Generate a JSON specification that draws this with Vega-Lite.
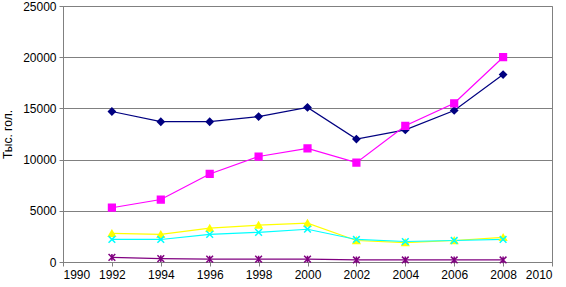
{
  "$schema": "https://vega.github.io/schema/vega-lite/v6.json",
  "autosize": "none",
  "width": 489,
  "height": 256,
  "padding": {"left": 63, "top": 6, "right": 14, "bottom": 25},
  "background": "white",
  "config": {
    "font": "Liberation Sans",
    "view": {"stroke": "#808080", "strokeWidth": 1}
  },
  "data": {
    "values": [
      {"s": "A", "year": 1992, "v": 14700}, {"s": "A", "year": 1994, "v": 13700}, {"s": "A", "year": 1996, "v": 13700},
      {"s": "A", "year": 1998, "v": 14200}, {"s": "A", "year": 2000, "v": 15100}, {"s": "A", "year": 2002, "v": 12000},
      {"s": "A", "year": 2004, "v": 12900}, {"s": "A", "year": 2006, "v": 14800}, {"s": "A", "year": 2008, "v": 18300},
      {"s": "B", "year": 1992, "v": 5300}, {"s": "B", "year": 1994, "v": 6100}, {"s": "B", "year": 1996, "v": 8600},
      {"s": "B", "year": 1998, "v": 10300}, {"s": "B", "year": 2000, "v": 11100}, {"s": "B", "year": 2002, "v": 9700},
      {"s": "B", "year": 2004, "v": 13300}, {"s": "B", "year": 2006, "v": 15500}, {"s": "B", "year": 2008, "v": 20000},
      {"s": "C", "year": 1992, "v": 2800}, {"s": "C", "year": 1994, "v": 2700}, {"s": "C", "year": 1996, "v": 3300},
      {"s": "C", "year": 1998, "v": 3600}, {"s": "C", "year": 2000, "v": 3800}, {"s": "C", "year": 2002, "v": 2100},
      {"s": "C", "year": 2004, "v": 1900}, {"s": "C", "year": 2006, "v": 2100}, {"s": "C", "year": 2008, "v": 2400},
      {"s": "D", "year": 1992, "v": 2200}, {"s": "D", "year": 1994, "v": 2200}, {"s": "D", "year": 1996, "v": 2700},
      {"s": "D", "year": 1998, "v": 2900}, {"s": "D", "year": 2000, "v": 3200}, {"s": "D", "year": 2002, "v": 2200},
      {"s": "D", "year": 2004, "v": 2000}, {"s": "D", "year": 2006, "v": 2100}, {"s": "D", "year": 2008, "v": 2200},
      {"s": "E", "year": 1992, "v": 450}, {"s": "E", "year": 1994, "v": 330}, {"s": "E", "year": 1996, "v": 280},
      {"s": "E", "year": 1998, "v": 280}, {"s": "E", "year": 2000, "v": 280}, {"s": "E", "year": 2002, "v": 200},
      {"s": "E", "year": 2004, "v": 200}, {"s": "E", "year": 2006, "v": 200}, {"s": "E", "year": 2008, "v": 200}
    ]
  },
  "encoding": {
    "x": {
      "field": "year", "type": "quantitative",
      "scale": {"domain": [1990, 2010], "nice": false, "zero": false},
      "axis": {"values": [1990,1992,1994,1996,1998,2000,2002,2004,2006,2008,2010], "format": "d", "grid": false, "title": null,
        "domainColor": "#808080", "tickColor": "#808080", "tickSize": 4, "labelFontSize": 12, "labelColor": "black", "labelPadding": 3}
    },
    "y": {
      "field": "v", "type": "quantitative",
      "scale": {"domain": [0, 25000], "nice": false},
      "axis": {"values": [0,5000,10000,15000,20000,25000], "format": "d", "title": "Тыс. гол.",
        "grid": true, "gridColor": "#808080", "gridOpacity": 1, "gridWidth": 1,
        "domainColor": "#808080", "tickColor": "#808080", "tickSize": 4, "labelFontSize": 12, "labelColor": "black",
        "labelPadding": 3, "titleFontSize": 12, "titleFontWeight": "normal", "titleColor": "black", "titlePadding": 8}
    },
    "color": {
      "field": "s", "type": "nominal", "legend": null,
      "scale": {"domain": ["A","B","C","D","E"], "range": ["#000080","#FF00FF","#FFFF00","#00FFFF","#800080"]}
    }
  },
  "layer": [
    {
      "mark": {"type": "line"},
      "encoding": {
        "strokeWidth": {"field": "s", "type": "nominal", "legend": null,
          "scale": {"domain": ["A","B","C","D","E"], "range": [1.2, 1.2, 2, 2, 1.5]}}
      }
    },
    {
      "mark": {"type": "point", "filled": false, "size": 45, "opacity": 1},
      "encoding": {
        "shape": {"field": "s", "type": "nominal", "legend": null,
          "scale": {"domain": ["A","B","C","D","E"],
            "range": ["diamond", "square", "triangle-up",
              "M-1,-1L1,1M-1,1L1,-1",
              "M-1,-1L1,1M-1,1L1,-1M0,-1L0,1"]}},
        "fill": {"field": "s", "type": "nominal", "legend": null,
          "scale": {"domain": ["A","B","C","D","E"], "range": ["#000080","#FF00FF","#FFFF00","transparent","transparent"]}},
        "strokeWidth": {"value": 1.5}
      }
    }
  ]
}
